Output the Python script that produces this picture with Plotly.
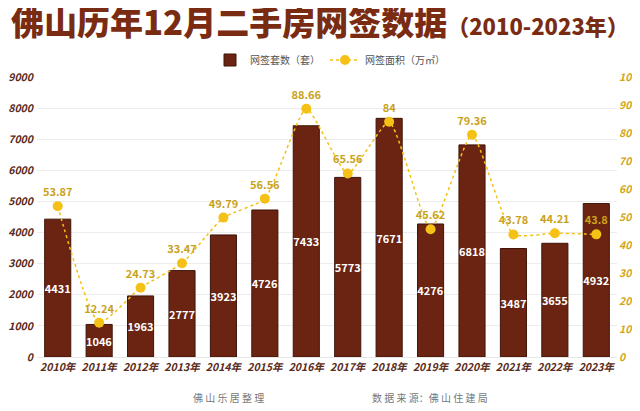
import plotly.graph_objects as go

years = ["2010年", "2011年", "2012年", "2013年", "2014年", "2015年", "2016年",
         "2017年", "2018年", "2019年", "2020年", "2021年", "2022年", "2023年"]
units = [4431, 1046, 1963, 2777, 3923, 4726, 7433, 5773, 7671, 4276, 6818, 3487, 3655, 4932]
area = [53.87, 12.24, 24.73, 33.47, 49.79, 56.56, 88.66, 65.56, 84, 45.62, 79.36, 43.78, 44.21, 43.8]
area_labels = ["53.87", "12.24", "24.73", "33.47", "49.79", "56.56", "88.66",
               "65.56", "84", "45.62", "79.36", "43.78", "44.21", "43.8"]
left_ticks = [0, 1000, 2000, 3000, 4000, 5000, 6000, 7000, 8000, 9000]
right_ticks = [0, 10, 20, 30, 40, 50, 60, 70, 80, 90, 100]

BROWN = "#6b2411"
GOLD = "#f5c116"
GOLD_TXT = "#c9a21c"
FONT = "Noto Sans CJK SC"

# page offset caused by the default 8px body margin
OFF = 8
PAGE_W, PAGE_H = 640, 411
FIG_W, FIG_H = PAGE_W - OFF, PAGE_H - OFF
# plot area in page pixels
L, R, T, B = 37, 617, 77, 357
W, H = R - L, B - T


def px(x):
    return (x - L) / W


def py(y):
    return (B - y) / H


fig = go.Figure()
fig.add_trace(go.Bar(
    x=years, y=units, name="网签套数（套）",
    marker=dict(color=BROWN, line=dict(color="#3f140a", width=1)),
    text=[str(v) for v in units], textposition="inside", insidetextanchor="middle",
    textfont=dict(color="white", size=11, family=FONT, weight="bold"),
    textangle=0, constraintext="none",
))
fig.add_trace(go.Scatter(
    x=years, y=area, name="网签面积（万㎡）", yaxis="y2",
    mode="lines+markers+text",
    line=dict(color=GOLD, width=1.5, dash="dot", shape="spline", smoothing=0.5),
    marker=dict(color=GOLD, size=10),
    text=area_labels, textposition="top center",
    textfont=dict(color=GOLD_TXT, size=11, family=FONT, weight="bold"),
    cliponaxis=False,
))

fig.update_layout(
    width=FIG_W, height=FIG_H,
    margin=dict(l=L - OFF, r=FIG_W - (R - OFF), t=T - OFF, b=FIG_H - (B - OFF), autoexpand=False),
    paper_bgcolor="white", plot_bgcolor="white",
    bargap=0.37,
    showlegend=True,
    legend=dict(orientation="h", x=px(330), xanchor="center",
                y=py(60), yanchor="middle",
                font=dict(size=10, color="#555555", family=FONT),
                itemwidth=30, traceorder="normal"),
    xaxis=dict(range=[-0.5, len(years) - 0.5],
               tickfont=dict(size=10.5, color="#5a2a1a", family=FONT, style="italic", weight="bold"),
               tickangle=0, showgrid=False, showline=True, linecolor="#e6e6e6", ticks=""),
    yaxis=dict(range=[0, 9000], tickvals=left_ticks,
               tickfont=dict(size=10.5, color="#5a2a1a", family=FONT, style="italic", weight="bold"),
               showgrid=True, gridcolor="#ececec", zeroline=False, ticklabelstandoff=3),
    yaxis2=dict(range=[0, 100], tickvals=right_ticks, overlaying="y", side="right",
                tickfont=dict(size=10.5, color="#d4a514", family=FONT, style="italic", weight="bold"),
                showgrid=False, zeroline=False, ticklabelstandoff=1),
    font=dict(family=FONT),
)

fig.add_annotation(
    xref="paper", yref="paper", x=px(9), y=py(21), xanchor="left", yanchor="middle",
    showarrow=False,
    text="佛山历年12月二手房网签数据<span style='font-size:22px'>（2010-2023年）</span>",
    font=dict(size=33, color="#7a2c12", family=FONT, weight=900),
)
fig.add_annotation(xref="paper", yref="paper", x=px(228), y=py(397), xanchor="center", yanchor="middle",
                   showarrow=False, text="佛 山 乐 居 整 理",
                   font=dict(size=10, color="#777777", family=FONT))
fig.add_annotation(xref="paper", yref="paper", x=px(430), y=py(397), xanchor="center", yanchor="middle",
                   showarrow=False, text="数 据 来 源：佛 山 住 建 局",
                   font=dict(size=10, color="#777777", family=FONT))

fig.write_html("out.html")
